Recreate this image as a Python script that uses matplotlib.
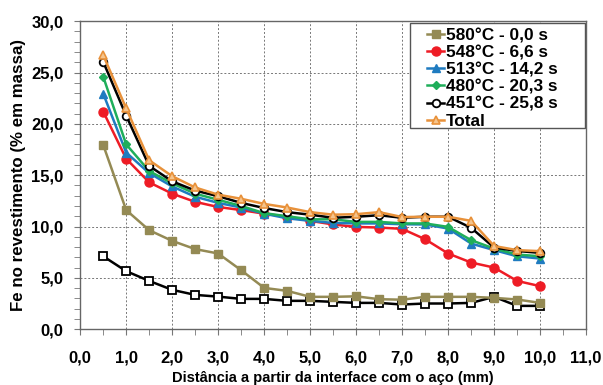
import numpy as np
import matplotlib.pyplot as plt
from matplotlib.patches import Rectangle
from matplotlib.ticker import MultipleLocator, FuncFormatter

plt.rcParams['font.family'] = ['Liberation Sans', 'DejaVu Sans']
plt.rcParams['font.weight'] = 'bold'

dist = [0.5, 1.0, 1.5, 2.0, 2.5, 3.0, 3.5, 4.0, 4.5, 5.0,
        5.5, 6.0, 6.5, 7.0, 7.5, 8.0, 8.5, 9.0, 9.5, 10.0]

fe_580 = [17.95, 11.6, 9.64, 8.6, 7.8, 7.37, 5.74, 4.02, 3.73, 3.15,
          3.15, 3.2, 2.92, 2.87, 3.15, 3.15, 3.15, 3.05, 2.89, 2.56]
fe_548 = [21.2, 16.6, 14.3, 13.2, 12.4, 11.9, 11.6, 11.25, 10.95, 10.55,
          10.2, 9.96, 9.9, 9.77, 8.76, 7.37, 6.49, 6.0, 4.7, 4.19]
fe_513 = [22.95, 17.2, 15.2, 13.9, 12.9, 12.3, 11.85, 11.25, 10.8, 10.55,
          10.35, 10.3, 10.3, 10.22, 10.2, 9.8, 8.34, 7.7, 7.1, 6.88]
fe_480 = [24.6, 18.0, 15.4, 14.2, 13.2, 12.6, 12.0, 11.3, 11.0, 10.7,
          10.7, 10.45, 10.45, 10.3, 10.3, 9.96, 8.67, 7.85, 7.27, 7.1]
fe_451 = [26.05, 20.8, 15.9, 14.4, 13.5, 12.95, 12.3, 11.8, 11.4, 11.15,
          10.85, 10.95, 11.1, 10.85, 10.95, 10.95, 9.87, 7.95, 7.62, 7.43]
fe_total = [26.7, 21.5, 16.45, 14.9, 13.8, 13.1, 12.7, 12.2, 11.85, 11.4,
            11.15, 11.2, 11.4, 10.92, 10.95, 10.95, 10.55, 8.1, 7.7, 7.6]
fe_base = [7.1, 5.65, 4.7, 3.83, 3.34, 3.17, 2.95, 2.95, 2.76, 2.76,
           2.66, 2.56, 2.56, 2.4, 2.5, 2.5, 2.56, 3.15, 2.27, 2.27]

labels = ['580°C - 0,0 s', '548°C - 6,6 s', '513°C - 14,2 s',
          '480°C - 20,3 s', '451°C - 25,8 s', 'Total']

fig = plt.figure(figsize=(6.03, 3.85), dpi=100)
ax = fig.add_axes([0.133, 0.145, 0.839, 0.80])

ax.plot(dist, fe_base, '-s', color='black', lw=1.8, ms=5.5, mfc='white', mec='black', mew=1.3)
ax.plot(dist, fe_580, '-s', color='#948A54', lw=1.8, ms=6, label=labels[0])
ax.plot(dist, fe_548, '-o', color='#EE1C25', lw=1.8, ms=6.5, label=labels[1])
ax.plot(dist, fe_513, '-^', color='#1F7BC0', lw=1.8, ms=6, label=labels[2])
ax.plot(dist, fe_480, '-D', color='#1FAE5A', lw=1.8, ms=4.5, label=labels[3])
ax.plot(dist, fe_451, '-o', color='black', lw=1.8, ms=5.5, mfc='white', mew=1.3, label=labels[4])
ax.plot(dist, fe_total, '-^', color='#E8913A', lw=1.8, ms=6, mfc='#F5C48C', mew=1.2, label=labels[5])

ax.set_xlim(0, 11)
ax.set_ylim(0, 30)
ax.xaxis.set_major_locator(MultipleLocator(1))
ax.xaxis.set_minor_locator(MultipleLocator(0.5))
ax.yaxis.set_major_locator(MultipleLocator(5))
ax.yaxis.set_minor_locator(MultipleLocator(1))
fmt = FuncFormatter(lambda v, p: ('%.1f' % v).replace('.', ','))
ax.xaxis.set_major_formatter(fmt)
ax.yaxis.set_major_formatter(fmt)

ax.grid(True, which='major', color='#777777', linestyle=(0, (2, 2)), lw=0.7)
ax.tick_params(which='both', direction='out', colors='#777777', labelcolor='black', labelsize=12)
ax.tick_params(axis='x', which='both', length=4, pad=11)
ax.tick_params(axis='y', which='both', length=4, pad=8)
for s in ax.spines.values():
    s.set_color('#666666')
    s.set_linewidth(1.0)

ax.set_xlabel('Distância a partir da interface com o aço (mm)', fontsize=10.5, fontweight='bold', labelpad=4)
ax.set_ylabel('Fe no revestimento (% em massa)', fontsize=12.2, fontweight='bold', labelpad=4)

# legend box drawn as a plain rectangle, legend entries on top of it
ax.add_patch(Rectangle((0.652, 0.653), 0.346, 0.341, transform=ax.transAxes,
                       facecolor='white', edgecolor='#555555', lw=1.0, zorder=4))
leg = ax.legend(loc='upper left', bbox_to_anchor=(0.686, 0.978), fontsize=12.4,
                frameon=False, borderpad=0, borderaxespad=0,
                handlelength=1.0, handletextpad=0.1, labelspacing=0.12)
leg.set_zorder(5)

plt.savefig('out.png', dpi=100)
